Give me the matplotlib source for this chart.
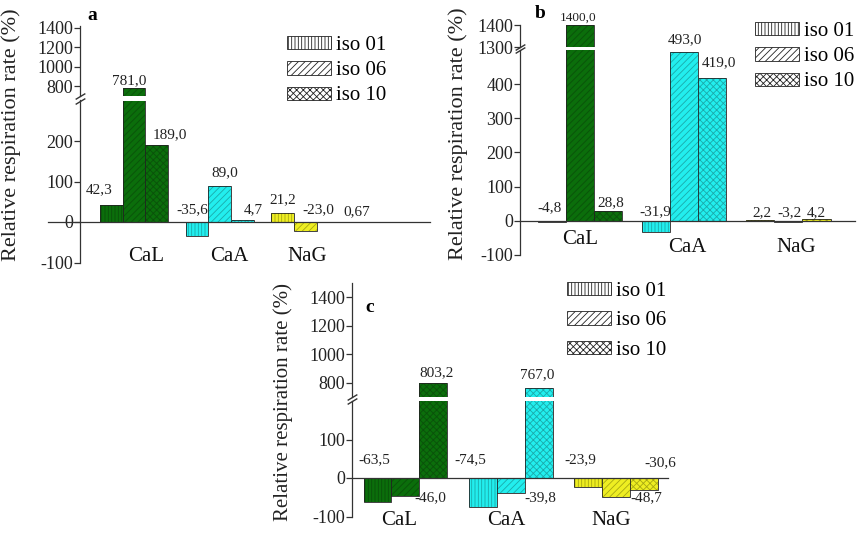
import matplotlib
matplotlib.use('Agg')
import matplotlib.pyplot as plt
from matplotlib.patches import Patch

plt.rcParams['font.family'] = ['Liberation Serif', 'DejaVu Serif']
plt.rcParams['axes.unicode_minus'] = False
plt.rcParams['hatch.linewidth'] = 0.6

W, H = 860, 534

# data
categories = ['CaL', 'CaA', 'NaG']
isolates = ['iso 01', 'iso 06', 'iso 10']
cat_colors = ['#0b6e0b', '#22eeee', '#eeee22']
hatch_colors = ['#0a500a', '#1aaaaa', '#a8a812']
hatches = ['|||||', '/////', 'xxxxx']

# rows = categories, columns = isolates
vals_a = [[42.3, 781.0, 189.0], [-35.6, 89.0, 4.7], [21.2, -23.0, 0.67]]
vals_b = [[-4.8, 1400.0, 28.8], [-31.9, 493.0, 419.0], [2.2, -3.2, 4.2]]
vals_c = [[-63.5, -46.0, 803.2], [-74.5, -39.8, 767.0], [-23.9, -48.7, -30.6]]

# value label placement (x shift in bar units, y in lower-axis units)
lab_dx_a = [[-0.14, -0.06, 0.15], [-0.06, 0.06, 0.13], [0.0, 0.15, 0.34]]
lab_y_a = [[79, 350, 215], [30, 121, 30], [54, 30, 25]]
lab_dx_b = [[-0.02, -0.02, 0.02], [-0.01, 0.01, 0.06], [0.02, 0.01, 0.0]]
lab_y_b = [[38, 594, 53], [26, 529, 462], [23, 23, 23]]
lab_dx_c = [[-0.03, 0.24, 0.03], [-0.12, 0.28, -0.02], [-0.08, 0.28, 0.15]]
lab_y_c = [[47, -52, 273], [47, -52, 268], [47, -52, 39]]


def fmt(v):
    s = f'{v:.2f}' if abs(v) < 1 else f'{v:.1f}'
    return s.replace('.', ',')


def px_axes(x0, x1, ytop, ybot):
    return fig.add_axes([x0 / W, 1 - ybot / H, (x1 - x0) / W, (ybot - ytop) / H])


panels = [
    dict(vals=vals_a, dx=lab_dx_a, ly=lab_y_a, letter='a', bw=0.265,
         x=(80, 430), up=(26, 95.7), lo=(100.5, 262.5),
         uplim=(700, 1420), lolim=(-100, 300), xlim=(-0.632, 3.456),
         upticks=[800, 1000, 1200, 1400], loticks=[-100, 0, 100, 200],
         zero_from=-32 / 350, cat_dx=[0.146, 0.117, 0.02], cat_y=[-86, -86, -86],
         letter_xy=(92, 15), ylab_xy=(11, 135), ylab_fs=16, leg_xy=(287, 36), leg_sp=0.3),
    dict(vals=vals_b, dx=lab_dx_b, ly=lab_y_b, letter='b', bw=0.27,
         x=(520, 855), up=(25, 47), lo=(50, 255),
         uplim=(1300, 1400), lolim=(-100, 500), xlim=(-0.577, 2.64),
         upticks=[1300, 1400], loticks=[-100, 0, 100, 200, 300, 400],
         zero_from=0, cat_dx=[0.0, 0.03, 0.08], cat_y=[-56, -79, -79],
         letter_xy=(540, 13), ylab_xy=(458, 134), ylab_fs=16, leg_xy=(755, 22), leg_sp=0.3),
    dict(vals=vals_c, dx=lab_dx_c, ly=lab_y_c, letter='c', bw=0.265,
         x=(352, 668), up=(282.7, 397.3), lo=(401, 516.5),
         uplim=(700, 1500), lolim=(-100, 200), xlim=(-0.507, 2.49),
         upticks=[800, 1000, 1200, 1400], loticks=[-100, 0, 100],
         zero_from=0, cat_dx=[-0.06, -0.04, -0.05], cat_y=[-111, -111, -111],
         letter_xy=(370, 307), ylab_xy=(283, 402), ylab_fs=15, leg_xy=(567, 282), leg_sp=0.5),
]

fig = plt.figure(figsize=(W / 100, H / 100), dpi=100)

for p in panels:
    ax_up = px_axes(p['x'][0], p['x'][1], *p['up'])
    ax_lo = px_axes(p['x'][0], p['x'][1], *p['lo'])
    bw = p['bw']
    for g, cat in enumerate(categories):
        for i in range(3):
            xpos = g + (i - 1) * bw
            v = p['vals'][g][i]
            for ax in (ax_up, ax_lo):
                ax.bar(xpos, v, bw, color=cat_colors[g], hatch=hatches[i],
                       edgecolor=hatch_colors[g], linewidth=0)
                ax.bar(xpos, v, bw, fill=False, edgecolor='#222222', linewidth=0.6)
            ax_lo.text(xpos + p['dx'][g][i], p['ly'][g][i], fmt(v),
                       ha='center', va='center', fontsize=11 if v < 1000 else 9.5,
                       color='#222222')
        ax_lo.text(g + p['cat_dx'][g], p['cat_y'][g], cat, ha='center', va='center',
                   fontsize=15, color='#111111')

    for ax, lim, ticks in ((ax_up, p['uplim'], p['upticks']), (ax_lo, p['lolim'], p['loticks'])):
        ax.set_xlim(*p['xlim'])
        ax.set_ylim(*lim)
        ax.set_yticks(ticks)
        ax.set_xticks([])
        for s in ('top', 'right', 'bottom'):
            ax.spines[s].set_visible(False)
        ax.spines['left'].set_color('#333333')
        ax.spines['left'].set_linewidth(0.9)
        ax.tick_params(axis='y', labelsize=13, length=4, width=0.9, color='#333333',
                       labelcolor='#222222', pad=1)
        ax.patch.set_alpha(0)

    ax_lo.axhline(0, xmin=p['zero_from'], xmax=1, color='#333333', lw=0.9, clip_on=False)

    # break marks on the y axis
    mk = [(-1, -0.6), (1, 0.6)]
    ax_up.plot([0], [0], transform=ax_up.transAxes, marker=mk, markersize=7,
               linestyle='none', color='#333333', mec='#333333', mew=1, clip_on=False)
    ax_lo.plot([0], [1], transform=ax_lo.transAxes, marker=mk, markersize=7,
               linestyle='none', color='#333333', mec='#333333', mew=1, clip_on=False)

    fig.text(p['letter_xy'][0] / W, 1 - p['letter_xy'][1] / H, p['letter'],
             fontsize=14, fontweight='bold', ha='center', va='center')
    fig.text(p['ylab_xy'][0] / W, 1 - p['ylab_xy'][1] / H, 'Relative respiration rate (%)',
             rotation=90, fontsize=p['ylab_fs'], ha='center', va='center', color='#222222')

    handles = [Patch(facecolor='white', edgecolor='#222222', hatch=h, linewidth=0.6)
               for h in hatches]
    fig.legend(handles, isolates, loc='upper left',
               bbox_to_anchor=(p['leg_xy'][0] / W, 1 - p['leg_xy'][1] / H),
               bbox_transform=fig.transFigure, frameon=False,
               prop={'family': 'Liberation Serif', 'size': 15},
               handlelength=2.1, handleheight=0.6, handletextpad=0.25,
               labelspacing=p['leg_sp'], borderpad=0, borderaxespad=0)

fig.savefig('out.png', dpi=100)
